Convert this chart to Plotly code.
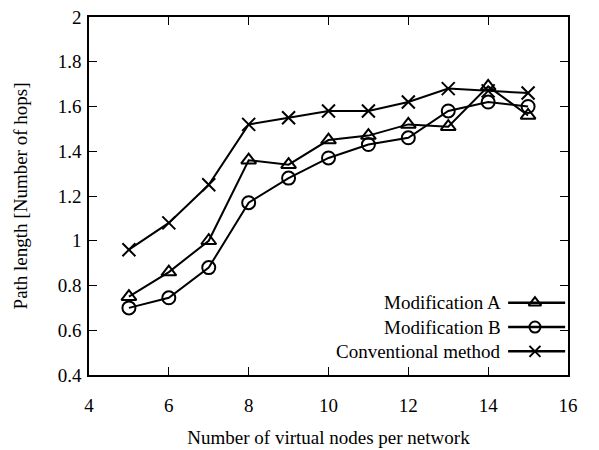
import plotly.graph_objects as go

nodes = [5, 6, 7, 8, 9, 10, 11, 12, 13, 14, 15]
mod_a = [0.75, 0.86, 1.00, 1.36, 1.34, 1.45, 1.47, 1.52, 1.51, 1.69, 1.56]
mod_b = [0.70, 0.745, 0.88, 1.17, 1.28, 1.37, 1.43, 1.46, 1.58, 1.62, 1.60]
conv = [0.96, 1.08, 1.25, 1.52, 1.55, 1.58, 1.58, 1.62, 1.68, 1.67, 1.66]

series_names = ["Modification A", "Modification B", "Conventional method"]
symbols = ["triangle-up-open", "circle-open", "x-thin-open"]
series = [mod_a, mod_b, conv]

x_ticks = [4, 6, 8, 10, 12, 14, 16]
y_ticks = [0.4, 0.6, 0.8, 1.0, 1.2, 1.4, 1.6, 1.8, 2.0]
y_tick_text = ["0.4", "0.6", "0.8", "1", "1.2", "1.4", "1.6", "1.8", "2"]

FONT = "Liberation Serif, Times New Roman, serif"
FS = 19

fig = go.Figure()
for name, sym, vals in zip(series_names, symbols, series):
    fig.add_trace(go.Scatter(
        x=nodes, y=vals, mode="lines+markers", name=name, showlegend=False,
        line=dict(color="black", width=2),
        marker=dict(symbol=sym, size=13, color="black", line=dict(color="black", width=2)),
    ))

# manual gnuplot-style key (text on left, sample on right)
key_rows = [0.202, 0.134, 0.066]
for name, sym, ky in zip(series_names, symbols, key_rows):
    fig.add_trace(go.Scatter(
        x=[0.875, 0.994], y=[ky, ky], mode="lines", xaxis="x2", yaxis="y2",
        line=dict(color="black", width=2.5), showlegend=False, hoverinfo="skip"))
    fig.add_trace(go.Scatter(
        x=[0.931], y=[ky], mode="markers", xaxis="x2", yaxis="y2",
        marker=dict(symbol=sym, size=11, color="black", line=dict(color="black", width=2)),
        showlegend=False, hoverinfo="skip"))
    fig.add_annotation(x=0.864, y=ky, xref="x2", yref="y2", text=name, showarrow=False,
                       xanchor="right", yanchor="middle",
                       font=dict(family=FONT, size=FS, color="black"))

axis_common = dict(showline=True, linecolor="black", linewidth=1.5, mirror="ticks",
                   ticks="inside", ticklen=8, tickcolor="black", tickwidth=1,
                   showgrid=False, zeroline=False, automargin=False,
                   tickfont=dict(family=FONT, size=FS, color="black"))

fig.update_layout(
    width=599, height=450,
    margin=dict(l=89, r=31, t=17, b=75),
    paper_bgcolor="white", plot_bgcolor="white",
    xaxis=dict(range=[4, 16], tickvals=x_ticks, ticklabelstandoff=12,
               title=dict(text="Number of virtual nodes per network",
                          font=dict(family=FONT, size=FS, color="black"), standoff=16),
               **axis_common),
    yaxis=dict(range=[0.4, 2.0], tickvals=y_ticks, ticktext=y_tick_text, ticklabelstandoff=2,
               title=dict(text="Path length [Number of hops]",
                          font=dict(family=FONT, size=FS, color="black"), standoff=25),
               **axis_common),
    xaxis2=dict(range=[0, 1], overlaying="x", visible=False, fixedrange=True),
    yaxis2=dict(range=[0, 1], overlaying="y", visible=False, fixedrange=True),
    showlegend=False,
)

fig.write_html("out.html")
